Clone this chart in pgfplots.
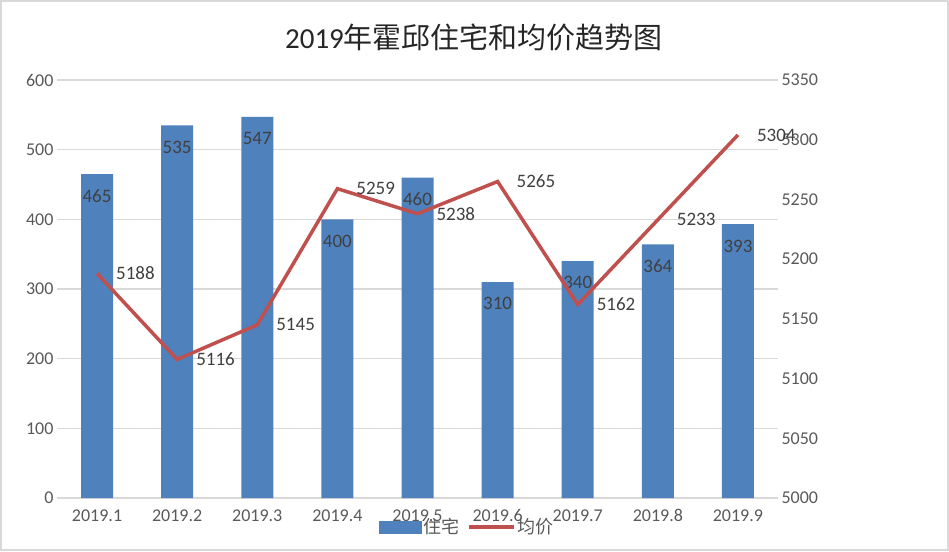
\documentclass[border=0pt]{standalone}
\usepackage{pgfplots}
\pgfplotsset{compat=1.18}
\usepackage{fontspec}
\setmainfont{Carlito}
\newfontfamily\cjk{Noto Sans CJK SC}
\definecolor{barblue}{HTML}{4F81BD}
\definecolor{linered}{HTML}{C0504D}
\definecolor{gridgray}{HTML}{D9D9D9}
\definecolor{txtgray}{HTML}{595959}
\definecolor{lblgray}{HTML}{404040}
\pgfplotsset{
  /pgf/number format/assume math mode=true,
  /pgf/number format/1000 sep={},
  twinaxis/.style={
    at={(57pt,53pt)}, anchor=south west,
    scale only axis, width=721pt, height=418pt,
    xmin=-0.5, xmax=8.5,
    major tick length=0pt,
    tick label style={font=\fontsize{18}{18}\selectfont, text=txtgray},
  },
}

\begin{document}
\begin{tikzpicture}[x=1pt,y=1pt]
\draw[gridgray, line width=2pt] (1,1) rectangle (948,550);
\node[font=\fontsize{29}{29}\selectfont, text=black!85] at (474,514)
  {2019{\cjk 年霍邱住宅和均价趋势图}};

% bars: 住宅 (left axis)
\begin{axis}[twinaxis,
  ymin=0, ymax=600, ytick={0,100,...,600},
  xtick={0,...,8},
  xticklabels={2019.1,2019.2,2019.3,2019.4,2019.5,2019.6,2019.7,2019.8,2019.9},
  xticklabel style={yshift=-8pt},
  ymajorgrids, grid style={gridgray, line width=1.2pt},
  axis line style={draw=none},
  ybar, bar width=32pt,
  nodes near coords,
  nodes near coords style={anchor=north, yshift=-12pt,
    font=\fontsize{19}{19}\selectfont, text=lblgray},
]
\addplot[fill=barblue, draw=none] coordinates {
  (0,465) (1,535) (2,547) (3,400) (4,460) (5,310) (6,340) (7,364) (8,393)
};
\end{axis}

% line: 均价 (right axis)
\begin{axis}[twinaxis,
  ymin=5000, ymax=5350, ytick={5000,5050,...,5350},
  scaled y ticks=false,
  axis y line*=right, hide x axis,
  axis line style={draw=none},
  legend style={at={(0.569,-0.069)}, anchor=center, draw=none, fill=none,
    legend columns=2, font=\fontsize{18}{18}\selectfont\cjk, text=txtgray,
    /tikz/every even column/.append style={column sep=6pt}},
]
\addlegendimage{legend image code/.code={\fill[barblue] (0pt,-6pt) rectangle (42pt,6pt);}}
\addlegendentry{住宅}
\addlegendimage{legend image code/.code={\draw[linered, line width=3.5pt] (0pt,0pt) -- (45pt,0pt);}}
\addlegendentry{均价}
\addplot[linered, line width=3.5pt, mark=none,
  nodes near coords,
  nodes near coords style={anchor=west, xshift=14pt,
    font=\fontsize{19}{19}\selectfont, text=lblgray}] coordinates {
  (0,5188) (1,5116) (2,5145) (3,5259) (4,5238) (5,5265) (6,5162) (7,5233) (8,5304)
};
\end{axis}
\end{tikzpicture}
\end{document}
